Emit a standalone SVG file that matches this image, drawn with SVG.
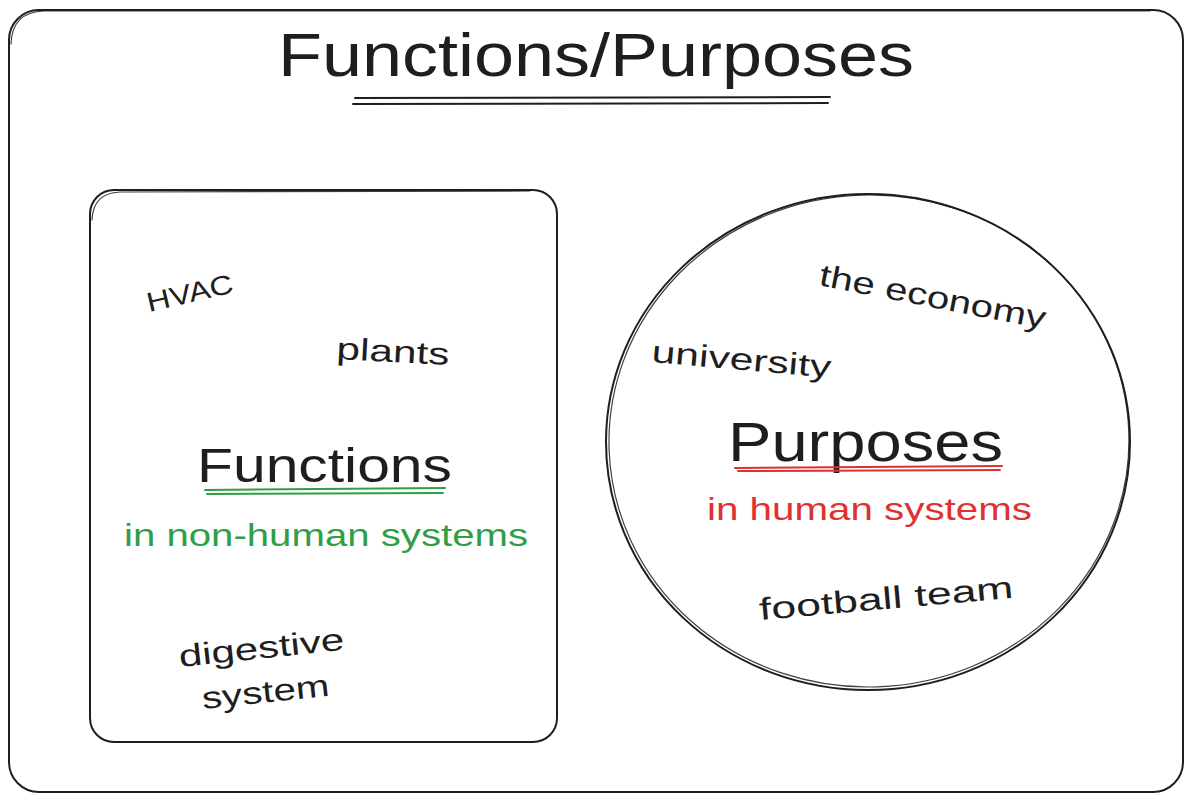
<svg xmlns="http://www.w3.org/2000/svg" width="1191" height="802" viewBox="0 0 1191 802">
<style>
.sk{fill:none;stroke:#1e1e1e;stroke-width:2;stroke-linecap:round;stroke-linejoin:round}
.sk2{fill:none;stroke:#1e1e1e;stroke-width:1.2;stroke-linecap:round;opacity:0.85}
.t{font-family:"Liberation Sans","Open Sans",sans-serif;fill:#1e1e1e}
.g{fill:#2f9e44}
.r{fill:#e03131}
.ug{stroke:#2f9e44;stroke-width:2;fill:none;stroke-linecap:round}
.ur{stroke:#e03131;stroke-width:2;fill:none;stroke-linecap:round}
.uk{stroke:#1e1e1e;stroke-width:2;fill:none;stroke-linecap:round}
</style>
<rect width="1191" height="802" fill="#ffffff"/>
<g id="frame">
<rect class="sk" x="9" y="10" width="1174" height="782" rx="30"/>
<path class="sk2" d="M11 44 Q12 12 44 11 L1150 11"/>
</g>
<g id="title">
<text class="t" x="278" y="76" font-size="62" textLength="636" lengthAdjust="spacingAndGlyphs">Functions/Purposes</text>
<path class="uk" d="M355 98 L830 97"/>
<path class="uk" d="M353 104 L828 103" stroke-width="1.5"/>
</g>
<g id="functions-box">
<rect class="sk" x="90" y="190" width="467" height="552" rx="24"/>
<path class="sk2" d="M92 220 Q93 193 120 192 L530 191"/>
<text class="t" x="197" y="482" font-size="48" textLength="255" lengthAdjust="spacingAndGlyphs">Functions</text>
<path class="ug" d="M205 490 L445 488"/>
<path class="ug" d="M207 494 L443 493" stroke-width="1.5"/>
<text class="t g" x="124" y="546" font-size="32" textLength="404" lengthAdjust="spacingAndGlyphs">in non-human systems</text>
<text class="t" x="0" y="0" font-size="27" textLength="88" lengthAdjust="spacingAndGlyphs" transform="translate(149 312) rotate(-13)">HVAC</text>
<text class="t" x="0" y="0" font-size="31" textLength="113" lengthAdjust="spacingAndGlyphs" transform="translate(336 359) rotate(3)">plants</text>
<text class="t" x="0" y="0" font-size="31" textLength="166" lengthAdjust="spacingAndGlyphs" transform="translate(180 667) rotate(-6)">digestive</text>
<text class="t" x="0" y="0" font-size="31" textLength="128" lengthAdjust="spacingAndGlyphs" transform="translate(203 709) rotate(-6)">system</text>
</g>
<g id="purposes-circle">
<ellipse class="sk" cx="868" cy="442" rx="262" ry="248"/>
<ellipse class="sk2" cx="869" cy="441" rx="260" ry="246" transform="rotate(-2 868 442)"/>
<text class="t" x="728" y="461" font-size="56" textLength="275" lengthAdjust="spacingAndGlyphs">Purposes</text>
<path class="ur" d="M735 468 L1002 466"/>
<path class="ur" d="M738 471 L1000 470" stroke-width="1.5"/>
<text class="t r" x="707" y="520" font-size="32" textLength="325" lengthAdjust="spacingAndGlyphs">in human systems</text>
<text class="t" x="0" y="0" font-size="31" textLength="230" lengthAdjust="spacingAndGlyphs" transform="translate(818 285) rotate(11)">the economy</text>
<text class="t" x="0" y="0" font-size="31" textLength="180" lengthAdjust="spacingAndGlyphs" transform="translate(651 362) rotate(5)">university</text>
<text class="t" x="0" y="0" font-size="31" textLength="255" lengthAdjust="spacingAndGlyphs" transform="translate(760 620) rotate(-5)">football team</text>
</g>
<g id="connectors"/>
</svg>
